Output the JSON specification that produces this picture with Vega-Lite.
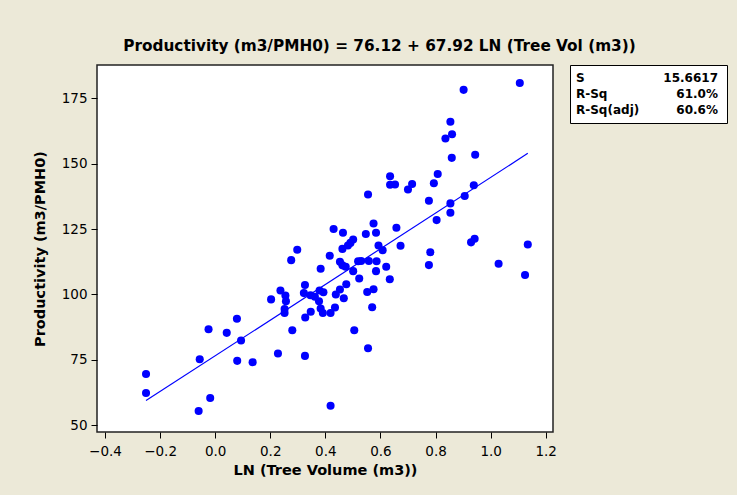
{
  "$schema": "https://vega.github.io/schema/vega-lite/v6.json",
  "background": "#ECE9D8",
  "padding": {"left": 31, "top": 38, "right": 9, "bottom": 17},
  "title": {"text": "Productivity  (m3/PMH0) =  76.12 + 67.92 LN (Tree Vol (m3))", "anchor": "middle", "dx": 0, "font": "DejaVu Sans", "fontSize": 15.3, "fontWeight": "bold", "color": "black", "offset": 10},
  "spacing": 11,
  "config": {
    "font": "DejaVu Sans",
    "axis": {"grid": false, "domain": false, "tickColor": "black", "tickSize": 6, "labelPadding": 2, "labelColor": "black", "labelFontSize": 13.5, "labelFont": "DejaVu Sans", "titleFont": "DejaVu Sans", "titleFontSize": 14.5, "titleFontWeight": "bold", "titleColor": "black"}
  },
  "hconcat": [
    {
      "width": 456,
      "height": 367,
      "view": {"fill": "white", "stroke": "#222222", "strokeWidth": 1.5},
      "data": {"values": [
        {"x": -0.251, "y": 69.6}, {"x": -0.251, "y": 62.3}, {"x": -0.060, "y": 55.4}, {"x": -0.018, "y": 60.4},
        {"x": -0.056, "y": 75.2}, {"x": -0.024, "y": 86.7}, {"x": 0.042, "y": 85.3}, {"x": 0.079, "y": 90.7},
        {"x": 0.094, "y": 82.4}, {"x": 0.080, "y": 74.6}, {"x": 0.136, "y": 74.1}, {"x": 0.203, "y": 98.1},
        {"x": 0.228, "y": 77.4}, {"x": 0.326, "y": 76.5}, {"x": 0.419, "y": 57.4}, {"x": 0.237, "y": 101.5},
        {"x": 0.255, "y": 99.6}, {"x": 0.257, "y": 97.4}, {"x": 0.252, "y": 94.4}, {"x": 0.252, "y": 92.9},
        {"x": 0.280, "y": 86.3}, {"x": 0.276, "y": 113.1}, {"x": 0.298, "y": 117.1}, {"x": 0.383, "y": 109.8},
        {"x": 0.416, "y": 114.8}, {"x": 0.326, "y": 103.6}, {"x": 0.322, "y": 100.5}, {"x": 0.346, "y": 99.7},
        {"x": 0.362, "y": 99.1}, {"x": 0.377, "y": 97.4}, {"x": 0.379, "y": 101.5}, {"x": 0.393, "y": 100.8},
        {"x": 0.383, "y": 94.6}, {"x": 0.391, "y": 92.9}, {"x": 0.419, "y": 92.9}, {"x": 0.347, "y": 93.4},
        {"x": 0.327, "y": 91.2}, {"x": 0.635, "y": 145.2}, {"x": 0.635, "y": 141.9}, {"x": 0.653, "y": 142.0},
        {"x": 0.700, "y": 140.1}, {"x": 0.555, "y": 138.2}, {"x": 0.575, "y": 127.1}, {"x": 0.658, "y": 125.5},
        {"x": 0.430, "y": 125.0}, {"x": 0.464, "y": 123.6}, {"x": 0.547, "y": 123.1}, {"x": 0.584, "y": 123.6},
        {"x": 0.501, "y": 121.0}, {"x": 0.491, "y": 119.7}, {"x": 0.482, "y": 118.7}, {"x": 0.462, "y": 117.4},
        {"x": 0.593, "y": 118.7}, {"x": 0.608, "y": 116.9}, {"x": 0.673, "y": 118.6}, {"x": 0.453, "y": 112.5},
        {"x": 0.462, "y": 111.1}, {"x": 0.474, "y": 110.6}, {"x": 0.501, "y": 108.9}, {"x": 0.519, "y": 112.7},
        {"x": 0.530, "y": 112.8}, {"x": 0.558, "y": 112.8}, {"x": 0.586, "y": 112.7}, {"x": 0.584, "y": 108.9},
        {"x": 0.621, "y": 110.6}, {"x": 0.523, "y": 106.1}, {"x": 0.634, "y": 105.8}, {"x": 0.435, "y": 95.0},
        {"x": 0.438, "y": 100.0}, {"x": 0.453, "y": 101.9}, {"x": 0.467, "y": 98.5}, {"x": 0.476, "y": 103.9},
        {"x": 0.552, "y": 100.9}, {"x": 0.575, "y": 102.0}, {"x": 0.570, "y": 95.1}, {"x": 0.505, "y": 86.3},
        {"x": 0.555, "y": 79.4}, {"x": 0.781, "y": 116.1}, {"x": 0.776, "y": 111.2}, {"x": 0.929, "y": 119.9},
        {"x": 0.942, "y": 121.3}, {"x": 1.029, "y": 111.7}, {"x": 1.125, "y": 107.4}, {"x": 1.135, "y": 119.1},
        {"x": 0.854, "y": 166.0}, {"x": 0.860, "y": 161.2}, {"x": 0.836, "y": 159.6}, {"x": 0.859, "y": 152.2},
        {"x": 0.944, "y": 153.4}, {"x": 0.808, "y": 146.0}, {"x": 0.794, "y": 142.5}, {"x": 0.715, "y": 142.2},
        {"x": 0.776, "y": 135.8}, {"x": 0.854, "y": 134.8}, {"x": 0.854, "y": 131.2}, {"x": 0.939, "y": 141.7},
        {"x": 0.906, "y": 137.6}, {"x": 0.804, "y": 128.4}, {"x": 1.106, "y": 180.8}, {"x": 0.902, "y": 178.2}
      ]},
      "layer": [
        {
          "mark": {"type": "circle", "color": "#0000FF", "opacity": 1, "size": 65},
          "encoding": {
            "x": {"field": "x", "type": "quantitative", "title": "LN (Tree Volume (m3))",
                  "scale": {"domain": [-0.429, 1.2265], "nice": false, "zero": false},
                  "axis": {"values": [-0.4, -0.2, 0, 0.2, 0.4, 0.6, 0.8, 1.0, 1.2], "format": ".1f", "labelPadding": 6, "titlePadding": 6}},
            "y": {"field": "y", "type": "quantitative", "title": "Productivity (m3/PMH0)",
                  "scale": {"domain": [47.4, 187.7], "nice": false, "zero": false},
                  "axis": {"values": [50, 75, 100, 125, 150, 175], "labelPadding": 4, "titlePadding": 14}}
          }
        },
        {
          "transform": [{"regression": "y", "on": "x"}],
          "mark": {"type": "line", "color": "#0000FF", "strokeWidth": 1.2},
          "encoding": {
            "x": {"field": "x", "type": "quantitative"},
            "y": {"field": "y", "type": "quantitative"}
          }
        }
      ]
    },
    {
      "width": 157,
      "height": 58,
      "view": {"fill": "white", "stroke": "black", "strokeWidth": 1},
      "data": {"values": [
        {"stat": "S", "value": "15.6617"},
        {"stat": "R-Sq", "value": "61.0%"},
        {"stat": "R-Sq(adj)", "value": "60.6%"}
      ]},
      "encoding": {
        "y": {"field": "stat", "type": "nominal", "sort": null, "axis": null, "scale": {"type": "point", "padding": 0.87}}
      },
      "layer": [
        {
          "mark": {"type": "text", "align": "left", "baseline": "middle", "dx": 6, "fontSize": 12, "fontWeight": "bold", "color": "black"},
          "encoding": {
            "x": {"datum": 0, "type": "quantitative", "scale": {"domain": [0, 1]}, "axis": null},
            "text": {"field": "stat"}
          }
        },
        {
          "mark": {"type": "text", "align": "right", "baseline": "middle", "dx": -9, "fontSize": 12, "fontWeight": "bold", "color": "black"},
          "encoding": {
            "x": {"datum": 1, "type": "quantitative", "scale": {"domain": [0, 1]}, "axis": null},
            "text": {"field": "value"}
          }
        }
      ]
    }
  ]
}
